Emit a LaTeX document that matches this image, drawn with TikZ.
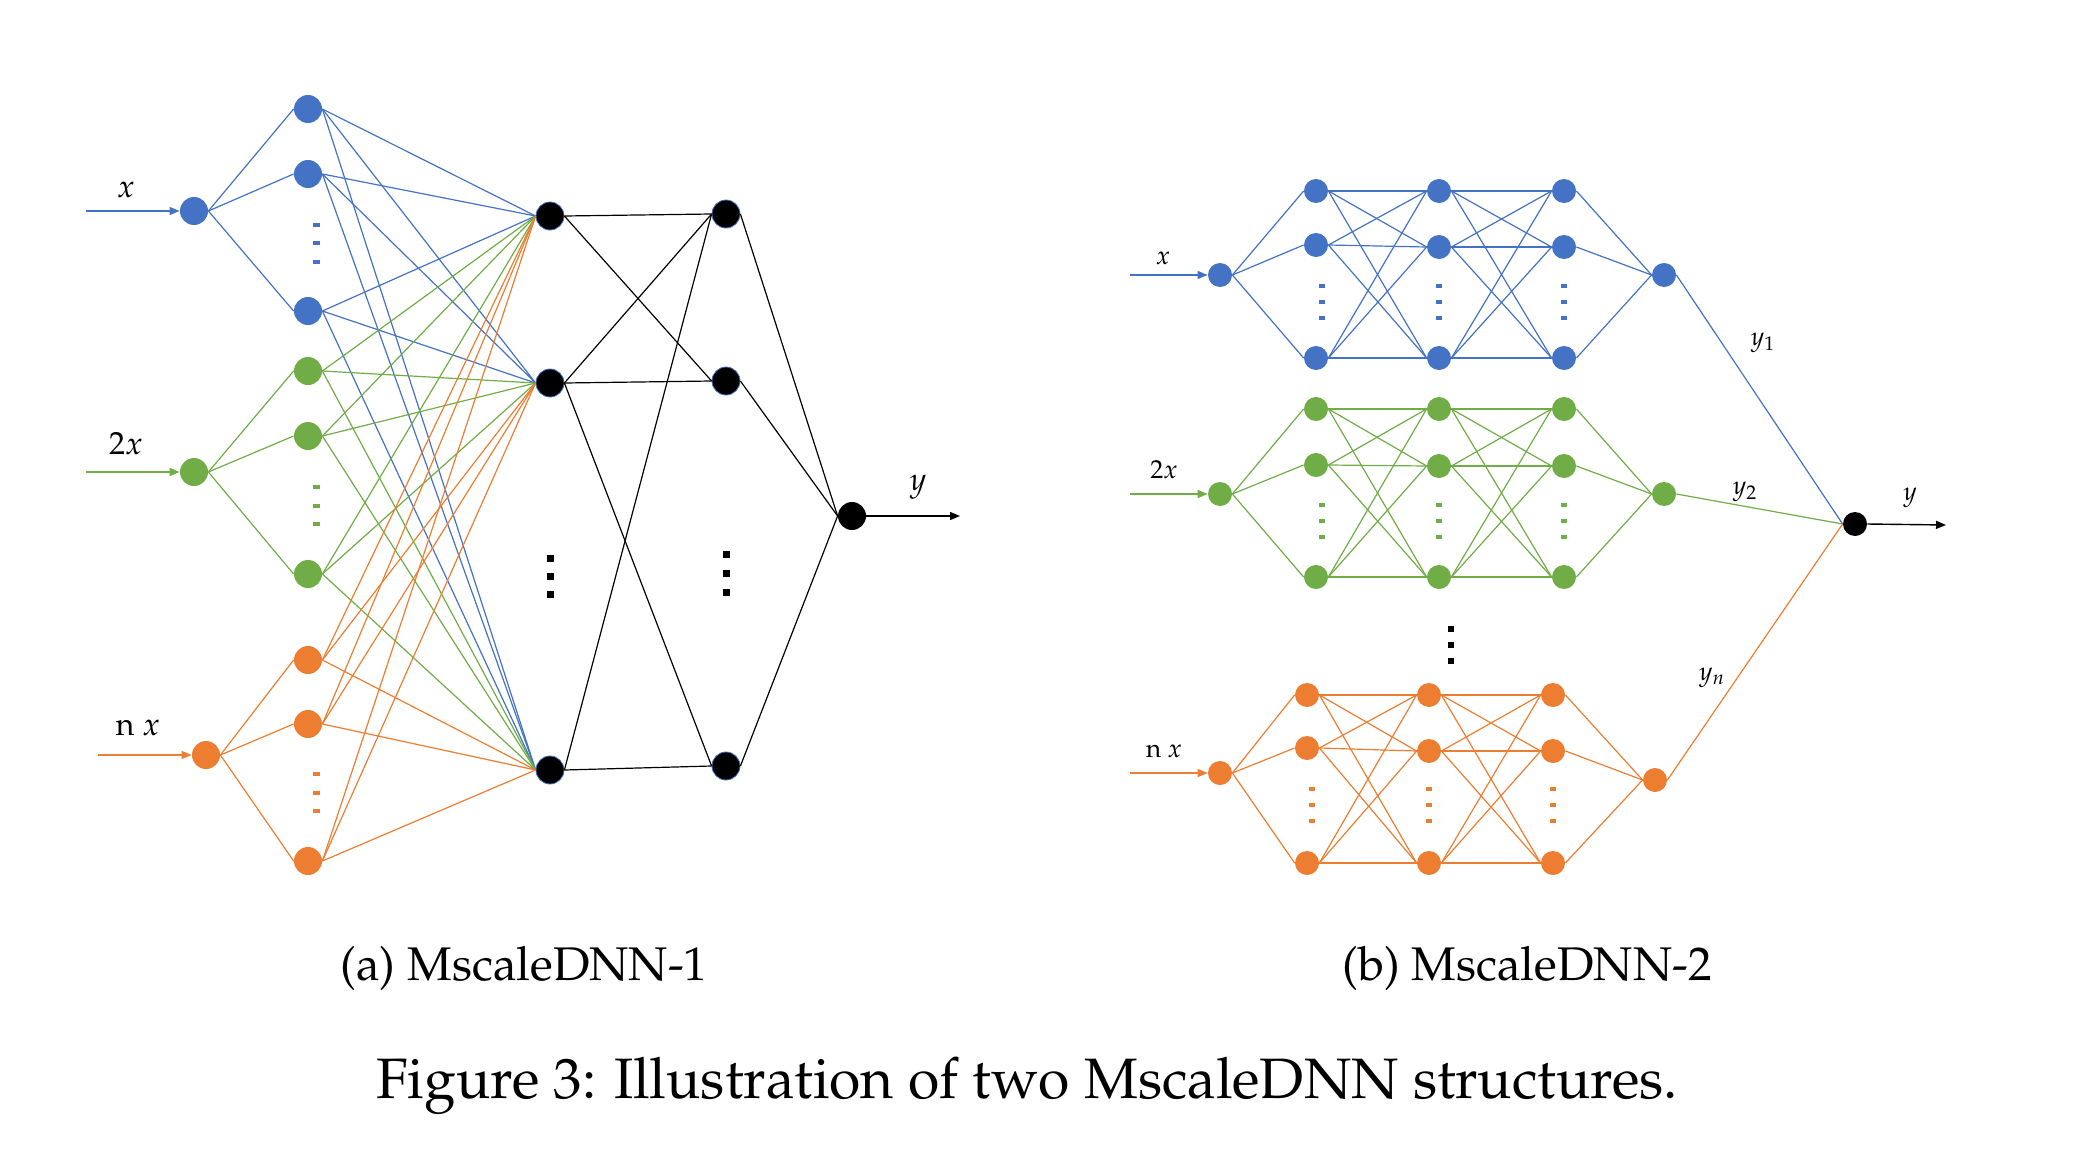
\documentclass[tikz,border=0pt]{standalone}
\usepackage[T1]{fontenc}
\usepackage{mathpazo}
\usetikzlibrary{arrows.meta}
\definecolor{cb}{HTML}{4472C4}
\definecolor{cg}{HTML}{70AD47}
\definecolor{co}{HTML}{ED7D31}
\begin{document}
\begin{tikzpicture}[x=0.5pt,y=-0.5pt,
  nd/.style={circle,inner sep=0pt,minimum size=14pt},
  ndb/.style={circle,inner sep=0pt,minimum size=12pt},
  ln/.style={line width=0.6pt},
  arr/.style={line width=0.7pt,-{Triangle[length=5pt,width=4pt]}},
  laba/.style={font=\fontsize{16}{18}\selectfont},
  labb/.style={font=\fontsize{13}{15}\selectfont}]
\useasboundingbox (0,0) rectangle (2082,1156);

% ---------------- panel (a) ----------------
\foreach \n/\c/\xi/\yi/\ya/\yb/\yc in {1/cb/194/211/109/174/311, 2/cg/194/472/371/436/574, 3/co/206/755/660/724/861} {
  \node[nd,fill=\c] (ai\n) at (\xi,\yi) {};
  \node[nd,fill=\c] (a\n a) at (308,\ya) {};
  \node[nd,fill=\c] (a\n b) at (308,\yb) {};
  \node[nd,fill=\c] (a\n c) at (308,\yc) {};
}
\node[nd,fill=black,draw=cb,line width=0.4pt] (h1) at (550,216) {};
\node[nd,fill=black,draw=cb,line width=0.4pt] (h2) at (550,383) {};
\node[nd,fill=black,draw=cb,line width=0.4pt] (h3) at (550,770) {};
\node[nd,fill=black,draw=cb,line width=0.4pt] (g1) at (726,214) {};
\node[nd,fill=black,draw=cb,line width=0.4pt] (g2) at (726,381) {};
\node[nd,fill=black,draw=cb,line width=0.4pt] (g3) at (726,766) {};
\node[nd,fill=black] (ao) at (852,516) {};

\foreach \n/\c in {1/cb,2/cg,3/co} {
  \foreach \k in {a,b,c} {
    \draw[ln,\c] (ai\n.east) -- (a\n\k.west);
    \foreach \m in {1,2,3} \draw[ln,\c] (a\n\k.east) -- (h\m.west);
  }
}
\foreach \s/\t in {h1/g1,h1/g2,h2/g1,h2/g2,h2/g3,h3/g1,h3/g3} \draw[ln,black] (\s.east) -- (\t.west);
\foreach \t in {g1,g2,g3} \draw[ln,black] (\t.east) -- (ao.west);

\coordinate (as1) at (86,211);
\coordinate (as2) at (86,472);
\coordinate (as3) at (98,755);
\coordinate (aend) at (960,516);
\draw[arr,cb] (as1) -- (ai1.west);
\draw[arr,cg] (as2) -- (ai2.west);
\draw[arr,co] (as3) -- (ai3.west);
\draw[arr,black] (ao.east) -- (aend);

\foreach \y in {225,243,262} \fill[cb] (316-3.5,\y-2.2) rectangle (316+3.5,\y+2.2);
\foreach \y in {487,506,524} \fill[cg] (316-3.5,\y-2.2) rectangle (316+3.5,\y+2.2);
\foreach \y in {774,793,811} \fill[co] (316-3.5,\y-2.2) rectangle (316+3.5,\y+2.2);
\foreach \y in {558,576,594} \fill[black] (550-3.5,\y-3.5) rectangle (550+3.5,\y+3.5);
\foreach \y in {554,573,592} \fill[black] (726-3.5,\y-3.5) rectangle (726+3.5,\y+3.5);

\node[laba] (lxa) at (126,190) {$x$};
\node[laba] (l2a) at (126,444) {$2x$};
\node[laba] (lna) at (138,728) {n $x$};
\node[laba] (lya) at (918,487) {$y$};

% ---------------- panel (b) ----------------
\foreach \n/\c/\yi/\yt/\ym/\ymm/\yb/\yo/\xa/\xb/\xc/\xo in {
  1/cb/275/191/245/247/358/275/1316/1439/1564/1664,
  2/cg/494/409/465/466/577/494/1316/1439/1564/1664,
  3/co/773/695/748/751/863/780/1307/1429/1553/1655} {
  \node[ndb,fill=\c] (bi\n) at (1220,\yi) {};
  \node[ndb,fill=\c] (b\n A1) at (\xa,\yt) {};
  \node[ndb,fill=\c] (b\n A2) at (\xa,\ym) {};
  \node[ndb,fill=\c] (b\n A3) at (\xa,\yb) {};
  \node[ndb,fill=\c] (b\n B1) at (\xb,\yt) {};
  \node[ndb,fill=\c] (b\n B2) at (\xb,\ymm) {};
  \node[ndb,fill=\c] (b\n B3) at (\xb,\yb) {};
  \node[ndb,fill=\c] (b\n C1) at (\xc,\yt) {};
  \node[ndb,fill=\c] (b\n C2) at (\xc,\ymm) {};
  \node[ndb,fill=\c] (b\n C3) at (\xc,\yb) {};
  \node[ndb,fill=\c] (bo\n) at (\xo,\yo) {};
}
\node[ndb,fill=black] (fin) at (1855,524) {};

\foreach \n/\c in {1/cb,2/cg,3/co} {
  \foreach \i in {1,2,3} {
    \draw[ln,\c] (bi\n.east) -- (b\n A\i.west);
    \draw[ln,\c] (b\n C\i.east) -- (bo\n.west);
    \foreach \j in {1,2,3} {
      \draw[ln,\c] (b\n A\i.east) -- (b\n B\j.west);
      \draw[ln,\c] (b\n B\i.east) -- (b\n C\j.west);
    }
  }
  \draw[ln,\c] (bo\n.east) -- (fin.west);
}

\coordinate (bs1) at (1130,275);
\coordinate (bs2) at (1130,494);
\coordinate (bs3) at (1130,773);
\coordinate (bend) at (1946,525);
\draw[arr,cb] (bs1) -- (bi1.west);
\draw[arr,cg] (bs2) -- (bi2.west);
\draw[arr,co] (bs3) -- (bi3.west);
\draw[arr,black] (fin.east) -- (bend);

\foreach \x in {1322,1439,1564} {
  \foreach \y in {286,302,318} \fill[cb] (\x-3,\y-2) rectangle (\x+3,\y+2);
  \foreach \y in {505,521,537} \fill[cg] (\x-3,\y-2) rectangle (\x+3,\y+2);
}
\foreach \x in {1312,1429,1553} {
  \foreach \y in {789,805,821} \fill[co] (\x-3,\y-2) rectangle (\x+3,\y+2);
}
\foreach \y in {629,645,661} \fill[black] (1451-3,\y-3) rectangle (1451+3,\y+3);

\node[labb] (lxb) at (1163,258) {$x$};
\node[labb] (l2b) at (1164,470) {$2x$};
\node[labb] (lnb) at (1164,751) {n $x$};
\node[labb] (ly1) at (1763,343) {$y_1$};
\node[labb] (ly2) at (1745,492) {$y_2$};
\node[labb] (lyn) at (1712,678) {$y_n$};
\node[labb] (lyb) at (1910,498) {$y$};

% ---------------- captions ----------------
\node[font=\fontsize{23.6}{28}\selectfont,anchor=base,inner sep=0pt] (capa) at (524,980) {(a) MscaleDNN-1};
\node[font=\fontsize{23.6}{28}\selectfont,anchor=base,inner sep=0pt] (capb) at (1527,980) {(b) MscaleDNN-2};
\node[font=\fontsize{28.5}{33}\selectfont,anchor=base,inner sep=0pt] (cap) at (1027,1098) {Figure 3: Illustration of two MscaleDNN structures.};
\end{tikzpicture}
\end{document}
